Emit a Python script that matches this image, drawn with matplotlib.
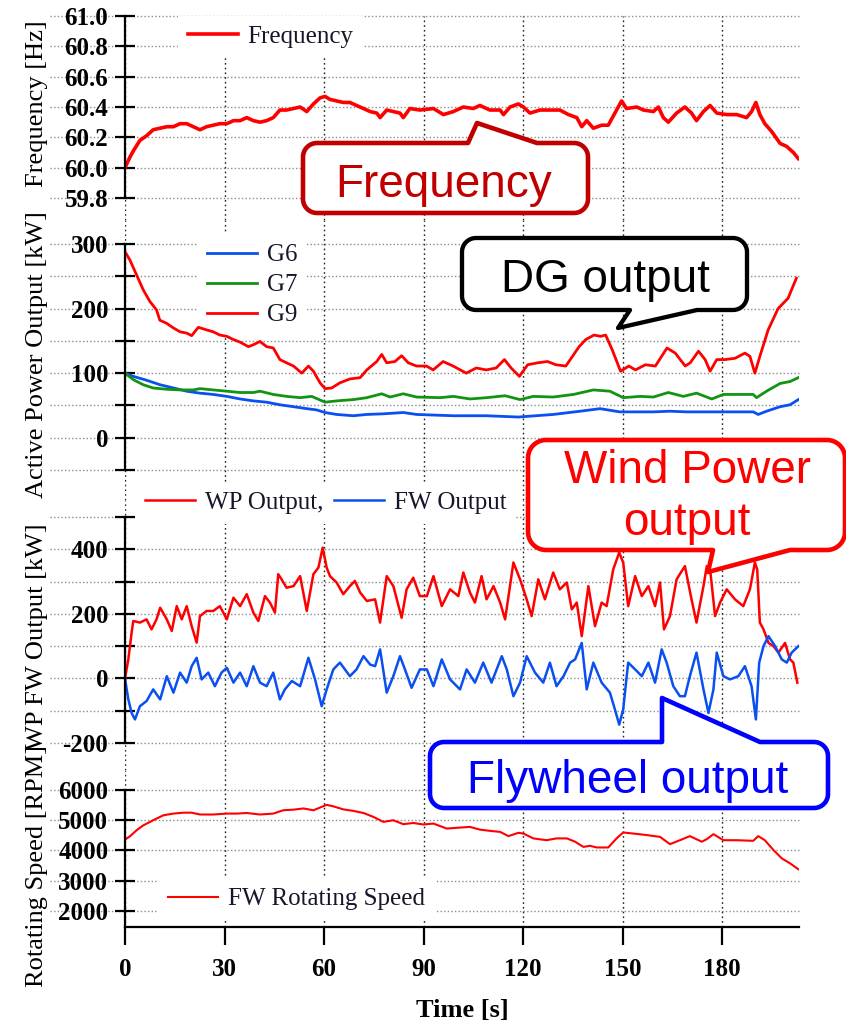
import matplotlib
matplotlib.use('Agg')
import matplotlib.pyplot as plt
from matplotlib.patches import Polygon
import numpy as np

# ---------------- data ----------------
freq_t = [0, 1.5, 2.5, 4.5, 6.5, 8.5, 10.5, 12.6, 14.6, 16.6, 18.6, 20.6, 22.6, 24.6, 26.6, 28.6,
          30.7, 32.7, 34.7, 36.7, 38.7, 40.7, 42.7, 44.7, 46.7, 48.7, 50.8, 52.8, 54.8, 56.8,
          58.8, 60.3, 61.8, 63.8, 65.8, 67.8, 69.8, 71.9, 73.9, 75.9, 76.9, 78.9, 80.9, 82.9,
          83.9, 85.9, 88.9,
          93.0, 96.0, 99.0, 102.0, 105.0, 107.0, 110.0, 113.1, 114.1, 116.1, 118.6, 120.1,
          122.1, 125.1, 128.1, 131.1, 133.7, 136.2, 137.7, 139.2, 141.2, 143.7, 145.7, 147.7,
          149.2, 149.7, 151.2, 154.3, 156.3, 159.3, 160.8, 162.3, 163.8, 166.3, 168.8, 170.8,
          172.3, 174.4, 176.4, 178.4, 181.4, 184.4, 187.4, 188.9, 190.2, 191.4, 192.9, 194.9,
          197.5, 199.5, 201.5, 203.0]
freq_hz = [60.00, 60.07, 60.11, 60.18, 60.21, 60.25, 60.26, 60.27, 60.27, 60.29, 60.29, 60.27,
           60.25, 60.27, 60.28, 60.29, 60.29, 60.31, 60.31, 60.33, 60.31, 60.30, 60.31, 60.33,
           60.38, 60.38, 60.39, 60.40, 60.37, 60.42, 60.46, 60.47, 60.45, 60.44, 60.43, 60.43,
           60.41, 60.39, 60.37, 60.36, 60.33, 60.38, 60.37, 60.36, 60.33, 60.39, 60.38,
           60.39, 60.35, 60.37, 60.40, 60.39, 60.41, 60.38, 60.38, 60.35, 60.40, 60.42, 60.40,
           60.36, 60.38, 60.38, 60.38, 60.35, 60.33, 60.27, 60.31, 60.26, 60.28, 60.28, 60.36,
           60.42, 60.44, 60.39, 60.40, 60.38, 60.37, 60.40, 60.33, 60.30, 60.36, 60.40, 60.36,
           60.31, 60.37, 60.41, 60.36, 60.35, 60.35, 60.33, 60.37, 60.43, 60.35, 60.29, 60.24,
           60.16, 60.14, 60.10, 60.06]

g6_t = [0, 2.5, 6.5, 10.6, 14.6, 18.6, 22.6, 26.6, 30.7, 34.7, 38.7, 42.7, 46.7, 50.8, 54.8,
        57.8, 60.3, 63.8, 68.8, 72.9, 77.9, 83.9, 87.9,
        99.0, 109.0, 118.6, 129.1, 137.2, 143.2, 149.2, 159.3, 164.3, 169.3, 179.4, 189.4,
        190.9, 193.4, 197.5, 200.5, 203.0]
g6_kw = [100, 95, 89, 82, 77, 72, 69, 67, 64, 60, 57, 55, 51, 48, 45, 43, 39, 36, 34, 36, 37, 39, 36,
         34, 34, 32, 36, 41, 45, 40, 40, 41, 40, 40, 40, 36, 41, 48, 51, 59]

g7_t = [0, 2.5, 5.5, 8.5, 12.6, 16.6, 20.6, 22.6, 26.6, 30.7, 34.7, 38.7, 40.7, 44.7, 48.7,
        52.8, 56.3, 60.3, 63.8, 68.8, 72.9, 77.4, 79.9, 83.9, 87.9,
        95.0, 99.0, 104.0, 109.0, 114.6, 119.1, 123.1, 129.1, 135.2, 141.2, 146.2, 150.2,
        155.3, 159.3, 163.8, 168.3, 172.3, 176.9, 180.4, 189.4, 190.4, 193.4, 197.5, 200.5, 203.0]
g7_kw = [100, 90, 82, 77, 75, 74, 74, 76, 74, 72, 70, 70, 72, 67, 64, 62, 64, 55, 57, 59, 62, 68,
         63, 68, 63,
         62, 64, 60, 62, 65, 59, 64, 63, 67, 74, 72, 62, 64, 63, 70, 64, 69, 60, 67, 67, 62, 72,
         84, 87, 93]

g9_t = [0, 1.5, 3.5, 5.5, 7.5, 9.5, 10.5, 12.6, 14.6, 16.6, 18.6, 20.1, 22.1, 24.6, 26.6, 28.6,
        30.7, 32.7, 34.7, 37.2, 38.7, 40.7, 42.7, 44.7, 46.7, 48.7, 50.8, 53.3, 55.3, 56.8,
        58.8, 60.3, 62.3, 64.8, 67.8, 70.9, 72.9, 75.9, 77.4, 78.9, 81.4, 83.4, 85.4, 87.9, 90.9,
        92.9, 95.9, 98.9, 102.9, 105.9, 108.9, 111.9, 114.4, 116.4, 118.9, 121.4, 124.4, 127.4,
        129.9, 132.9, 134.9, 136.9, 138.9, 141.4, 143.4, 144.9, 146.9, 149.4, 151.9, 153.9,
        156.9, 159.9, 163.4, 165.9, 168.9, 170.4, 172.9, 174.9, 176.4, 178.4, 180.9, 183.9,
        186.9, 188.4, 189.9, 191.4, 193.9, 196.9, 199.9, 202.4]
g9_kw = [288, 275, 252, 229, 211, 198, 182, 177, 170, 164, 162, 158, 171, 167, 164, 159, 157, 152,
         148, 141, 144, 149, 141, 139, 121, 116, 111, 100, 111, 103, 85, 76, 77, 85, 91, 93, 105,
         118, 129, 116, 118, 127, 116, 111, 111,
         105, 118, 111, 100, 108, 105, 108, 121, 108, 95, 113, 116, 118, 113, 111, 126, 141, 152,
         159, 157, 159, 136, 103, 111, 105, 113, 111, 139, 131, 111, 116, 134, 121, 103, 121, 121,
         123, 131, 126, 100, 126, 167, 200, 216, 247]

wp_t = [0, 1.0, 2.0, 2.5, 4.5, 6.5, 8.0, 9.5, 10.6, 12.6, 14.1, 15.6, 17.1, 18.6, 20.1, 21.6,
        22.6, 24.6, 26.6, 28.6, 30.7, 32.7, 34.7, 36.7, 38.7, 40.2, 42.2, 43.7, 45.2, 46.2,
        47.2, 48.7, 50.8, 52.8, 54.8, 56.8, 58.3, 59.6, 60.8, 61.8, 63.8, 65.8, 67.8, 69.3,
        70.9, 72.9, 75.4, 76.9, 78.9, 80.9, 83.4, 84.9, 86.9, 88.9,
        91.0, 93.0, 95.5, 98.0, 100.5, 102.0, 104.0, 105.5, 107.5, 109.0, 111.1, 113.1, 114.6,
        117.1, 119.1, 121.1, 122.6, 124.6, 126.6, 129.1, 131.1, 133.2, 134.7, 136.2, 137.7,
        139.7, 141.7, 143.7, 145.2, 147.2, 149.0, 150.2, 151.7, 153.8, 155.8, 157.8, 159.8,
        161.3, 162.5, 164.3, 166.3, 168.8, 170.8, 172.3, 174.4, 175.4, 176.4, 177.9, 179.4,
        181.4, 183.9, 186.4, 188.4, 189.9, 190.6, 191.4, 192.5, 194.0, 195.5, 197.0, 199.0,
        200.5, 201.5, 202.7]
wp_kw = [0, 59, 142, 178, 173, 183, 152, 183, 219, 183, 147, 224, 183, 224, 162, 111, 193, 209,
         209, 224, 183, 250, 224, 261, 204, 178, 255, 235, 204, 323, 307, 281, 286, 317, 209, 323,
         343, 405, 343, 317, 297, 261, 286, 302, 266, 240, 245, 173, 317, 286, 188, 276, 312, 255,
         255, 317, 224, 276, 255, 328, 266, 235, 317, 245, 286, 235, 183, 359, 307, 245, 193, 307,
         245, 328, 276, 297, 214, 235, 131, 286, 162, 235, 224, 338, 390, 359, 224, 317, 255, 286,
         224, 297, 152, 193, 307, 348, 245, 173, 286, 348, 338, 193, 235, 276, 245, 224, 276, 359,
         338, 173, 152, 110, 100, 80, 110, 59, 49, -13]

fw_t = [0, 1.0, 2.0, 3.0, 4.5, 6.5, 8.5, 10.6, 12.6, 14.6, 16.6, 18.6, 20.1, 21.6, 23.1, 25.1,
        27.1, 29.1, 30.7, 32.7, 34.7, 36.7, 38.7, 40.7, 42.7, 44.7, 46.7, 48.2, 50.3, 52.8,
        55.3, 57.3, 59.3, 60.8, 62.8, 64.8, 67.8, 69.8, 71.9, 73.9, 75.4, 76.9, 78.9, 80.9,
        82.9, 84.4, 86.4, 88.9,
        91.0, 93.0, 95.5, 98.0, 101.0, 103.0, 105.5, 108.0, 110.5, 113.6, 115.1, 117.1, 119.1,
        121.1, 123.6, 126.1, 128.1, 130.1, 132.2, 134.2, 135.7, 137.7, 139.2, 141.2, 143.7,
        146.2, 147.7, 149.0, 150.2, 151.7, 153.8, 155.8, 157.8, 159.8, 161.8, 163.3, 165.3,
        167.3, 168.8, 170.3, 172.3, 174.4, 175.9, 177.4, 178.4, 180.4, 182.4, 184.9, 186.9,
        188.9, 190.2, 191.2, 192.5, 194.0, 196.0, 198.0, 199.5, 201.0, 203.0]
fw_kw = [0, -65, -107, -127, -86, -70, -34, -65, 7, -44, 18, -13, 38, 64, -3, 18, -24, 18, 33, -13,
         18, -24, 38, -13, -24, 18, -65, -34, -8, -24, 64, -3, -86, -34, 28, 49, 7, 28, 69, 43,
         38, 90, -44, 7, 69, 28, -29, 28,
         28, -24, 59, -3, -34, 28, -13, 49, -13, 69, 28, -55, -13, 69, 18, -13, 49, -24, 7, 49,
         59, 110, -34, 49, -13, -44, -96, -143, -96, 49, 28, 7, 49, -13, 90, 49, -24, -55, -55, 7,
         80, -34, -107, -34, 80, 7, -3, 7, 38, -24, -127, 49, 100, 131, 100, 59, 49, 80, 100]

spd_t = [0, 1.5, 3.5, 5.5, 8.5, 11.6, 14.6, 17.6, 20.1, 22.6, 26.6, 30.7, 33.7, 36.7, 40.7, 44.7,
         47.7, 50.8, 53.8, 56.8, 58.8, 60.8, 62.8, 65.8, 68.8, 71.9, 74.9, 77.9, 80.9, 83.9,
         86.9, 89.9,
         93.0, 97.0, 100.0, 104.0, 107.0, 110.0, 113.1, 115.6, 118.6, 120.1, 123.1, 127.1,
         130.1, 133.2, 135.7, 138.2, 140.2, 142.2, 145.7, 148.2, 150.2, 153.3, 157.3, 161.3,
         164.3, 167.3, 170.3, 173.9, 175.4, 177.4, 180.4, 184.4, 189.4, 190.9, 192.9, 195.5,
         198.0, 200.5, 203.0]
spd_rpm = [4360, 4470, 4670, 4830, 5000, 5165, 5220, 5250, 5250, 5190, 5190, 5220, 5220, 5240,
           5190, 5220, 5330, 5350, 5390, 5330, 5420, 5510, 5460, 5360, 5310, 5240, 5110, 4945,
           5000, 4870, 4910, 4860,
           4890, 4725, 4750, 4780, 4690, 4650, 4615, 4475, 4585, 4560, 4400, 4340, 4400, 4400,
           4290, 4120, 4155, 4100, 4100, 4400, 4595, 4560, 4510, 4450, 4210, 4340, 4475, 4290,
           4375, 4540, 4340, 4340, 4320, 4475, 4340, 4015, 3740, 3575, 3380]

x_ticks = [0, 30, 60, 90, 120, 150, 180]
x_labels = ['0', '30', '60', '90', '120', '150', '180']
freq_ticks = [59.8, 60.0, 60.2, 60.4, 60.6, 60.8, 61.0]
freq_labels = ['59.8', '60.0', '60.2', '60.4', '60.6', '60.8', '61.0']
dg_ticks = [-50, 0, 50, 100, 150, 200, 250, 300]
dg_labels = ['', '0', '', '100', '', '200', '', '300']
wf_ticks = [-200, -100, 0, 100, 200, 300, 400, 500]
wf_labels = ['-200', '', '0', '', '200', '', '400', '']
spd_ticks = [2000, 3000, 4000, 5000, 6000]
spd_labels = ['2000', '3000', '4000', '5000', '6000']

# ---------------- figure ----------------
plt.rcParams['font.family'] = ['Liberation Serif', 'DejaVu Serif']
W, H = 846, 1022
fig = plt.figure(figsize=(W / 100, H / 100), dpi=100)
SANS = ['Liberation Sans', 'DejaVu Sans']
L, R = 125, 799
XMAX = 203.2


def band(top, bottom):
    return [L / W, 1 - bottom / H, (R - L) / W, (bottom - top) / H]


ax1 = fig.add_axes(band(16, 220))
ax2 = fig.add_axes(band(220, 500))
ax3 = fig.add_axes(band(500, 770))
ax4 = fig.add_axes(band(770, 927))

RED, BLUE, GREEN = '#ff0000', '#0a4ff0', '#129412'
LEGC = '#16162a'

ax1.plot(freq_t, freq_hz, color=RED, lw=2.6, label='Frequency')
ax2.plot(g6_t, g6_kw, color=BLUE, lw=2.0, label='G6')
ax2.plot(g7_t, g7_kw, color=GREEN, lw=2.0, label='G7')
ax2.plot(g9_t, g9_kw, color=RED, lw=2.0, label='G9')
ax3.plot(wp_t, wp_kw, color=RED, lw=1.8, label='WP Output,')
ax3.plot(fw_t, fw_kw, color=BLUE, lw=1.8, label='FW Output')
ax4.plot(spd_t, spd_rpm, color=RED, lw=1.5, label='FW Rotating Speed')

TICKFS = 18
setups = [
    (ax1, (59.655, 61.0), (59.8, 61.0), freq_ticks, freq_labels, 'Frequency [Hz]', 104),
    (ax2, (-96.5, 337.2), (-50, 300), dg_ticks, dg_labels, 'Active Power Output [kW]', 355),
    (ax3, (-283.6, 552.7), (-200, 500), wf_ticks, wf_labels, 'WP FW Output [kW]', 637),
    (ax4, (1471, 6661), (1471, 6000), spd_ticks, spd_labels, 'Rotating Speed [RPM]', 866),
]
for ax, ylim, bounds, ticks, labels, ylab, ycen in setups:
    ax.set_xlim(0, XMAX)
    ax.set_ylim(*ylim)
    ax.patch.set_visible(False)
    for s in ['top', 'right', 'bottom']:
        ax.spines[s].set_visible(False)
    ax.spines['left'].set_linewidth(1.6)
    ax.spines['left'].set_bounds(*bounds)
    ax.set_xticks(x_ticks)
    ax.tick_params(axis='x', bottom=False, labelbottom=False)
    ax.grid(axis='x', color='#222222', linestyle=(0, (1.2, 2.2)), linewidth=1.0)
    ax.set_yticks(ticks, labels, fontsize=TICKFS, fontweight='bold')
    ax.tick_params(axis='y', direction='inout', length=14, width=1.6, pad=5)
    for v in ticks:
        ax.axhline(v, xmin=-75 / (R - L), xmax=1, color='#8c8c8c',
                   linestyle=(0, (1.0, 1.6)), linewidth=1.0, clip_on=False, zorder=0.8)
    ax.set_ylabel(ylab, fontsize=19)
    ax.yaxis.set_label_coords(48 / W, 1 - ycen / H, transform=fig.transFigure)

# bottom axis
ax4.spines['bottom'].set_visible(True)
ax4.spines['bottom'].set_linewidth(1.6)
ax4.spines['bottom'].set_bounds(0, XMAX)
ax4.tick_params(axis='x', bottom=True, labelbottom=True, direction='out', length=13,
                width=1.6, pad=9)
ax4.set_xticks(x_ticks, x_labels, fontsize=TICKFS, fontweight='bold')
ax4.set_xlabel('Time [s]', fontsize=19, fontweight='bold')
ax4.xaxis.set_label_coords(462 / W, 1 - 999 / H, transform=fig.transFigure)

# legends (white box hides the grid, data lines stay on top)
leg_kw = dict(loc='center left', bbox_transform=fig.transFigure, frameon=True, fancybox=False,
              edgecolor='none', facecolor='white', framealpha=1, borderpad=0.4,
              handlelength=2.0, handletextpad=0.38, borderaxespad=0,
              fontsize=18, labelcolor=LEGC)
l1 = ax1.legend(bbox_to_anchor=(178 / W, 1 - 37 / H), labelspacing=0.1, **leg_kw)
l2 = ax2.legend(bbox_to_anchor=(197 / W, 1 - 285 / H), labelspacing=0.3, **leg_kw)
l3 = ax3.legend(bbox_to_anchor=(135 / W, 1 - 503 / H), ncol=2, columnspacing=0.44,
                labelspacing=0.1, **leg_kw)
l4 = ax4.legend(bbox_to_anchor=(158 / W, 1 - 899 / H), labelspacing=0.1, **leg_kw)
for lg in (l1, l2, l3, l4):
    lg.set_zorder(1.9)


# callout bubbles
def bubble(x0, y0, x1, y1, r, side, pa, tip, pb, color, lw):
    pts = []

    def arc(cx, cy, a0, a1):
        for a in np.linspace(np.radians(a0), np.radians(a1), 14):
            pts.append((cx + r * np.cos(a), cy + r * np.sin(a)))

    arc(x0 + r, y0 + r, 180, 270)
    if side == 'top':
        pts.extend([(pa, y0), tip, (pb, y0)])
    arc(x1 - r, y0 + r, 270, 360)
    arc(x1 - r, y1 - r, 0, 90)
    if side == 'bottom':
        pts.extend([(pb, y1), tip, (pa, y1)])
    arc(x0 + r, y1 - r, 90, 180)
    pts = [(x / W, 1 - y / H) for x, y in pts]
    fig.add_artist(Polygon(pts, closed=True, transform=fig.transFigure, facecolor='white',
                           edgecolor=color, linewidth=lw, joinstyle='round', zorder=10))


def btext(x, y, s, color, size=33):
    fig.text(x / W, 1 - y / H, s, ha='center', va='baseline', fontsize=size, color=color,
             family=SANS, zorder=11)


bubble(303, 143, 588, 213, 14, 'top', 468, (477, 123), 537, '#c00000', 3.3)
btext(444, 197, 'Frequency', '#c00000')
bubble(462, 238, 747, 310, 14, 'bottom', 630, (618, 328), 697, '#000000', 3.1)
btext(605, 292, 'DG output', '#000000')
bubble(528, 440, 845, 550, 18, 'bottom', 713, (708, 572), 790, '#ff0000', 3.3)
btext(687, 483, 'Wind Power', '#ff0000')
btext(687, 535, 'output', '#ff0000')
bubble(430, 742, 828, 808, 14, 'top', 662, (662, 698), 760, '#0000ff', 3.3)
btext(628, 793, 'Flywheel output', '#0000ff')

fig.savefig('out.png', dpi=100)
